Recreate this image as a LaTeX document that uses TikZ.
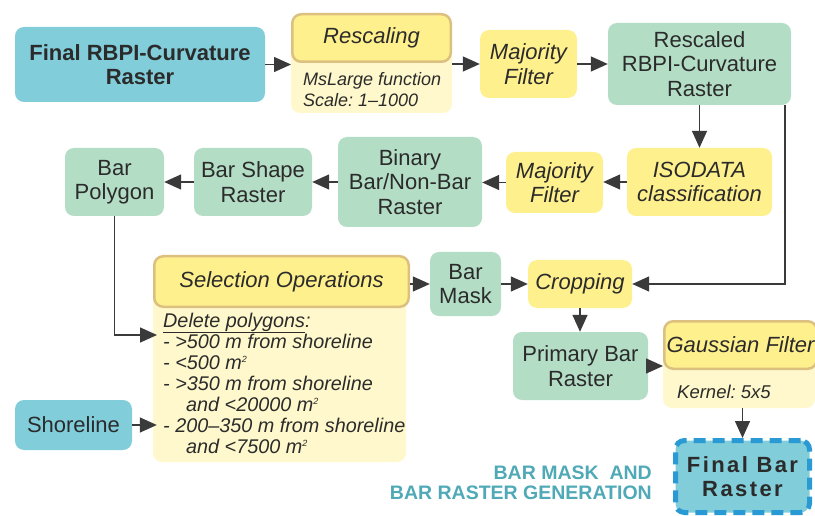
\documentclass[tikz,border=0pt]{standalone}
\usepackage{fontspec}
\setmainfont{Liberation Sans}
\usetikzlibrary{arrows.meta}
\definecolor{cblue}{HTML}{81CDD9}
\definecolor{cgreen}{HTML}{B3DDC5}
\definecolor{cyellow}{HTML}{FFF08E}
\definecolor{clight}{HTML}{FEF8CC}
\definecolor{ctan}{HTML}{DCC07F}
\definecolor{cdash}{HTML}{2A9AD5}
\definecolor{cteal}{HTML}{4FA9B6}
\definecolor{ctext}{HTML}{2B2B2B}
\definecolor{cline}{HTML}{3A3A3A}
\newcommand\fbig{\fontsize{22}{24.5}\selectfont}
\newcommand\fsmall{\fontsize{19.8}{21}\selectfont}
\newcommand\sqm{m\raisebox{7pt}{\fontsize{9}{9}\selectfont 2}}
\frenchspacing
\tikzset{
  box/.style={rounded corners=9pt, inner sep=0pt, align=center, text=ctext, font=\fbig},
  bbox/.style={box, fill=cblue},
  gbox/.style={box, fill=cgreen},
  ybox/.style={box, fill=cyellow, font=\fbig\itshape},
  hbox/.style={box, fill=cyellow, draw=ctan, line width=2.5pt, font=\fbig\itshape},
  lbox/.style={rounded corners=9pt, fill=clight, inner sep=0pt},
  note/.style={inner sep=0pt, align=left, text=ctext, font=\fsmall\itshape},
  tip/.tip={Triangle[length=17pt 0, width=15pt 0]},
  arr/.style={draw=cline, line width=1.5pt, -tip}
}
\begin{document}
\frenchspacing
\begin{tikzpicture}[x=1pt,y=-1pt]
\useasboundingbox (0,0) rectangle (815,516);

% row 1
\node[bbox, font=\fbig\bfseries, minimum width=250pt, minimum height=75pt] (frbpi) at (140,64.5) {Final RBPI-Curvature\\Raster};
\node[lbox, minimum width=161pt, minimum height=75pt] (rescbody) at (371.5,75.5) {};
\node[note, anchor=west, font=\fontsize{18}{21}\selectfont\itshape] (rescnote) at (303,90) {MsLarge function\\Scale: 1--1000};
\node[hbox, minimum width=158.5pt, minimum height=47.5pt] (reschead) at (371.5,38) {Rescaling};
\node[ybox, minimum width=97pt, minimum height=68pt] (maj1) at (528.5,64) {Majority\\Filter};
\node[gbox, minimum width=183pt, minimum height=82pt] (rescaled) at (699.5,64) {Rescaled\\RBPI-Curvature\\Raster};

% row 2
\node[ybox, minimum width=145pt, minimum height=68pt] (isodata) at (699.5,182) {ISODATA\\classification};
\node[ybox, minimum width=97pt, minimum height=61pt] (maj2) at (554.5,182.5) {Majority\\Filter};
\node[gbox, minimum width=144pt, minimum height=90pt] (binary) at (410,182) {Binary\\Bar/Non-Bar\\Raster};
\node[gbox, minimum width=118pt, minimum height=68pt] (barshape) at (253,182) {Bar Shape\\Raster};
\node[gbox, minimum width=99pt, minimum height=68pt] (barpoly) at (114.5,182) {Bar\\Polygon};

% selection
\node[lbox, minimum width=253pt, minimum height=181pt] (selbody) at (279.5,371.5) {};
\node[note, anchor=west] (selnote) at (163,383) {\underline{Delete polygons}:\\
- >500 m from shoreline\\
- <500 \sqm\\
- >350 m from shoreline\\
\hspace*{23pt}and <20000 \sqm\\
- 200--350 m from shoreline\\
\hspace*{23pt}and <7500 \sqm};
\node[hbox, minimum width=254.5pt, minimum height=50.5pt] (selhead) at (281.5,281.5) {Selection Operations};
\node[bbox, minimum width=117pt, minimum height=50pt] (shore) at (73.5,425) {Shoreline};

% right lower
\node[gbox, minimum width=71pt, minimum height=64pt] (barmask) at (465.5,284) {Bar\\Mask};
\node[ybox, minimum width=104pt, minimum height=48pt] (crop) at (580,284) {Cropping};
\node[gbox, minimum width=135pt, minimum height=68pt] (primary) at (580.5,366) {Primary Bar\\Raster};
\node[lbox, minimum width=152pt, minimum height=63pt] (gbody) at (739,376.5) {};
\node[note, anchor=west, font=\fontsize{18.5}{21}\selectfont\itshape] (gnote) at (677,392) {Kernel: 5x5};
\node[hbox, minimum width=152.5pt, minimum height=47.5pt] (ghead) at (740.5,345) {Gaussian Filter};
\node[bbox, draw=cdash, line width=5pt, dash pattern=on 12pt off 7pt,
      font=\fbig\bfseries\addfontfeatures{LetterSpace=11},
      minimum width=134pt, minimum height=72pt] (final) at (742.5,476.5) {Final Bar\\Raster};
\node[anchor=east, align=right, inner sep=0pt, text=cteal, font=\fontsize{19.5}{20.5}\selectfont\bfseries] (title) at (652,483) {BAR MASK\ \ AND\\BAR RASTER GENERATION};

% connectors
\coordinate (selin) at (157,335);
\draw[arr] (frbpi.east) -- (frbpi.east -| reschead.west);
\draw[arr] (maj1.west -| reschead.east) -- (maj1.west);
\draw[arr] (maj1.east) -- (rescaled.west);
\draw[arr] (rescaled.south) -- (isodata.north);
\draw[arr] ([xshift=-6pt]rescaled.south east) |- (crop.east);
\draw[arr] (isodata.west) -- (isodata.west -| maj2.east);
\draw[arr] (maj2.west) -- (maj2.west -| binary.east);
\draw[arr] (binary.west) -- (binary.west -| barshape.east);
\draw[arr] (barshape.west) -- (barshape.west -| barpoly.east);
\draw[arr] (barpoly.south) |- (selin);
\draw[arr] (shore.east) -- ([xshift=4pt]shore.east -| selbody.west);
\draw[arr] (barmask.west -| selhead.east) -- (barmask.west);
\draw[arr] (barmask.east) -- (crop.west);
\draw[arr] (crop.south) -- (crop.south |- primary.north);
\draw[arr] (primary.east) -- (primary.east -| ghead.west);
\draw[arr] (final.north |- gbody.south) -- (final.north);
\end{tikzpicture}
\end{document}
